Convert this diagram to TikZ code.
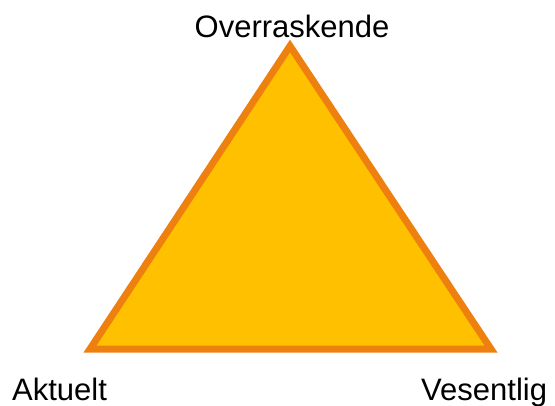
\documentclass[tikz,border=0pt]{standalone}
\usepackage{fontspec}
\setmainfont{Liberation Sans}
\definecolor{trifill}{RGB}{255,192,0}
\definecolor{triline}{RGB}{238,128,16}
\begin{document}
\begin{tikzpicture}[x=1pt,y=-1pt,
  lbl/.style={inner sep=0pt,font=\fontsize{31}{31}\selectfont,text=black},
  tri/.style={fill=trifill,draw=triline,line width=7pt,line join=miter}]
\useasboundingbox (0,0) rectangle (555,405);
\coordinate (top) at (290,46);
\coordinate (bl) at (90,349);
\coordinate (br) at (491,349);
\draw[tri] (top) -- (bl) -- (br) -- cycle;
\node[lbl,anchor=base] (o) at (292,37) {Overraskende};
\node[lbl,anchor=base west] (a) at (12,400) {Aktuelt};
\node[lbl,anchor=base west] (v) at (421,400) {Vesentlig};
\end{tikzpicture}
\end{document}
